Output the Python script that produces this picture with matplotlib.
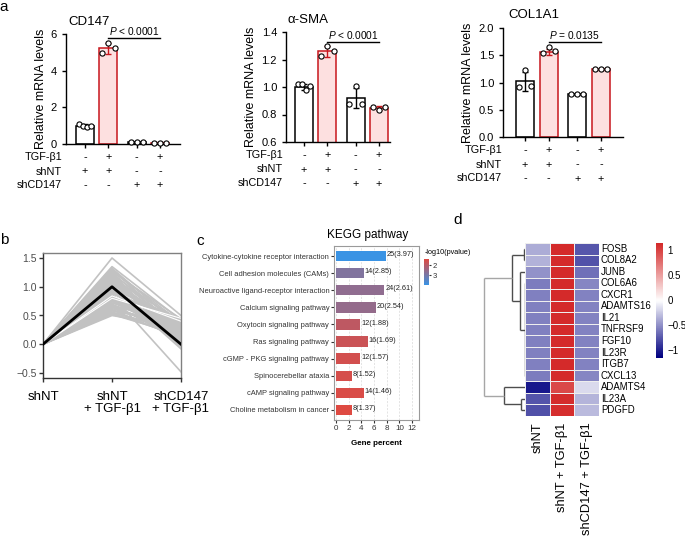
import numpy as np
import matplotlib
matplotlib.use("Agg")
import matplotlib.pyplot as plt
from matplotlib.colors import LinearSegmentedColormap, Normalize
from matplotlib.transforms import offset_copy

plt.rcParams["font.family"] = ["Liberation Sans", "DejaVu Sans"]
plt.rcParams["mathtext.fontset"] = "custom"
plt.rcParams["mathtext.it"] = "Liberation Sans:italic"
plt.rcParams["mathtext.rm"] = "Liberation Sans"

W, H = 685, 540

# ---------------- panel a data ----------------
tgf_row = ["-", "+", "-", "+"]
shnt_row = ["+", "+", "-", "-"]
shcd147_row = ["-", "-", "+", "+"]
row_names = ["TGF-\u03b21", "shNT", "shCD147"]

cd147_mean = [1.0, 5.22, 0.10, 0.08]
cd147_sd = [0.08, 0.30, 0.01, 0.01]
cd147_pts = [[1.10, 0.98, 0.93, 0.99], [4.98, 5.53, 5.26], [0.11, 0.10, 0.10], [0.08, 0.08, 0.08]]

sma_mean = [1.0, 1.26, 0.92, 0.85]
sma_sd = [0.02, 0.04, 0.075, 0.015]
sma_pts = [[1.02, 1.02, 0.975, 1.01], [1.225, 1.30, 1.26], [0.88, 1.005, 0.88], [0.855, 0.83, 0.855]]

col1a1_mean = [1.02, 1.56, 0.78, 1.24]
col1a1_sd = [0.18, 0.06, 0.01, 0.01]
col1a1_pts = [[0.91, 1.23, 0.935], [1.54, 1.66, 1.57], [0.78, 0.78, 0.78], [1.25, 1.24, 1.24]]

genes_a = ["CD147", "\u03b1-SMA", "COL1A1"]
p_texts = [r"$\it{P}$ < 0.0001", r"$\it{P}$ < 0.0001", r"$\it{P}$ = 0.0135"]
p_heights = [5.78, 1.327, 1.74]

# ---------------- panel b data ----------------
b_conditions = ["shNT", "shNT\n+ TGF-\u03b21", "shCD147\n+ TGF-\u03b21"]
b_peak = [1.50, 1.35, 1.32, 1.28, 1.25, 1.22, 1.20, 1.18, 1.15, 1.12, 1.10, 1.08,
          1.05, 1.02, 1.00, 0.98, 0.95, 0.92, 0.90, 0.88, 0.85, 0.82, 0.80, 0.78,
          0.75, 0.72, 0.70, 0.68, 0.65, 0.62, 0.60, 0.58, 0.55, 0.52, 0.50, 0.85,
          1.30, 1.26, 1.19, 1.14, 1.09, 1.04, 0.99, 0.94, 0.89, 0.84, 0.79, 0.74,
          0.69, 0.64, 0.59, 0.54, 1.24, 1.16, 1.06, 0.96, 0.86, 0.76, 0.66, 0.56]
b_end = [0.50, 0.42, 0.30, 0.38, 0.20, 0.35, 0.10, 0.28, 0.40, 0.05, 0.32, 0.15,
         0.25, -0.05, 0.36, 0.12, 0.30, 0.02, 0.22, 0.40, 0.18, 0.08, 0.34, 0.26,
         0.14, 0.30, 0.06, 0.38, 0.20, 0.28, 0.10, 0.34, 0.24, 0.16, 0.30, -0.48,
         0.22, 0.44, 0.00, 0.18, 0.26, 0.36, -0.08, 0.12, 0.42, 0.04, 0.20, 0.32,
         0.10, 0.24, 0.38, 0.14, -0.02, 0.08, 0.30, 0.44, 0.02, 0.18, 0.40, 0.22]
b_white_peak = [0.80, 0.84]
b_white_end = [0.45, 0.40]
b_center = [0.0, 1.0, 0.0]

# ---------------- panel c data ----------------
kegg_terms = ["Cytokine-cytokine receptor interaction", "Cell adhesion molecules (CAMs)",
              "Neuroactive ligand-receptor interaction", "Calcium signaling pathway",
              "Oxytocin signaling pathway", "Ras signaling pathway",
              "cGMP - PKG signaling pathway", "Spinocerebellar ataxia",
              "cAMP signaling pathway", "Choline metabolism in cancer"]
kegg_count = [25, 14, 24, 20, 12, 16, 12, 8, 14, 8]
kegg_pct = [7.9, 4.4, 7.6, 6.3, 3.8, 5.0, 3.8, 2.5, 4.4, 2.5]
kegg_logp = [3.97, 2.85, 2.61, 2.54, 1.88, 1.69, 1.57, 1.52, 1.46, 1.37]

# ---------------- panel d data ----------------
heat_genes = ["FOSB", "COL8A2", "JUNB", "COL6A6", "CXCR1", "ADAMTS16", "IL21", "TNFRSF9",
              "FGF10", "IL23R", "ITGB7", "CXCL13", "ADAMTS4", "IL23A", "PDGFD"]
heat_cols = ["shNT", "shNT + TGF-\u03b21", "shCD147 + TGF-\u03b21"]
heat_shnt = [-0.38, -0.36, -0.50, -0.60, -0.58, -0.58, -0.58, -0.58, -0.58, -0.58, -0.58, -0.60, -1.05, -0.78, -0.80]
heat_tgf = [1.15, 1.15, 1.15, 1.15, 1.15, 1.15, 1.15, 1.15, 1.15, 1.15, 1.15, 1.15, 0.97, 1.13, 1.12]
heat_cd147 = [-0.77, -0.79, -0.65, -0.55, -0.57, -0.57, -0.57, -0.57, -0.57, -0.57, -0.57, -0.55, -0.18, -0.35, -0.32]
# row dendrogram: (height, children), leaves are row indices
row_tree = (41, [(13, [(1, [0, 1]), (5, [2, (0, [3, 4, 5, 6, 7, 8, 9, 10, 11])])]),
                 (21, [12, (4, [13, 14])])])


def box(fig, l, t, r, b):
    return fig.add_axes([l / W, 1 - b / H, (r - l) / W, (b - t) / H])


fig = plt.figure(figsize=(W / 100, H / 100), dpi=100)

# ================= panel a =================
x_pos = [1, 2, 3.2, 4.2]
a_boxes = [(66, 34, 180, 144), (286, 32, 390, 142), (503, 28, 623, 137)]
a_xlims = [(0.19, 5.05), (0.23, 4.67), (0.07, 5.13)]
a_ylims = [(0, 6), (0.6, 1.4), (0, 2)]
a_yticks = [[0, 2, 4, 6], [0.6, 0.8, 1.0, 1.2, 1.4], [0, 0.5, 1.0, 1.5, 2.0]]
a_yfmt = ["{:.0f}", "{:.1f}", "{:.1f}"]
a_title_xy = [(68, 22), (287, 20), (508, 15)]
a_rowlab_x = [62, 283, 502]
means = [cd147_mean, sma_mean, col1a1_mean]
sds = [cd147_sd, sma_sd, col1a1_sd]
pts = [cd147_pts, sma_pts, col1a1_pts]
fills = ["white", "#fde0e0", "white", "#fde0e0"]
edges = ["black", "#c8161d", "black", "#c8161d"]

for k in range(3):
    l, t, r, b = a_boxes[k]
    ax = box(fig, l, t, r, b)
    ax.bar(x_pos, means[k], width=0.77, color=fills, edgecolor=edges, linewidth=1.1, zorder=1)
    for i in range(4):
        ax.errorbar(x_pos[i], means[k][i], yerr=sds[k][i], fmt="none", ecolor=edges[i],
                    elinewidth=1, capsize=2.5, capthick=1, zorder=2)
        vals = pts[k][i]
        offs = np.linspace(-0.26, 0.26, len(vals))
        ax.scatter(np.array(x_pos[i]) + offs, vals, s=14, facecolor="white",
                   edgecolor="black", linewidth=0.8, zorder=3, clip_on=False)
    ax.set_xlim(*a_xlims[k])
    ax.set_ylim(*a_ylims[k])
    ax.set_yticks(a_yticks[k])
    ax.set_yticklabels([a_yfmt[k].format(v) for v in a_yticks[k]], fontsize=8)
    ax.set_xticks(x_pos)
    ax.set_xticklabels([])
    ax.tick_params(length=3, width=1)
    for s in ["top", "right"]:
        ax.spines[s].set_visible(False)
    for s in ["left", "bottom"]:
        ax.spines[s].set_linewidth(1)
    ax.set_ylabel("Relative mRNA levels", fontsize=9, labelpad=3)
    fig.text(a_title_xy[k][0] / W, 1 - a_title_xy[k][1] / H, genes_a[k], fontsize=9.5,
             ha="left", va="center")
    # significance line
    ax.plot([x_pos[1], x_pos[3]], [p_heights[k]] * 2, color="black", lw=1, clip_on=False)
    ax.annotate(p_texts[k], ((x_pos[1] + x_pos[3]) / 2, p_heights[k]), xytext=(0, 1),
                textcoords="offset points", ha="center", va="bottom", fontsize=7.3,
                annotation_clip=False)
    # +/- table
    trans = ax.get_xaxis_transform()
    for j, (name, row) in enumerate(zip(row_names, [tgf_row, shnt_row, shcd147_row])):
        dy = [13, 27.5, 41.5][j]
        tr = offset_copy(trans, fig=fig, x=0, y=-dy, units="dots")
        for xi, sgn in zip(x_pos, row):
            ax.text(xi, 0, sgn, transform=tr, ha="center", va="center", fontsize=7.8)
        fig.text(a_rowlab_x[k] / W, 1 - (b + dy) / H, name, ha="right", va="center", fontsize=7.8)

# ================= panel b =================
axb = box(fig, 43, 253, 181, 378)
xs = [0, 1, 2]
for p, e in zip(b_peak, b_end):
    axb.plot(xs, [0, p, e], color="#c2c2c2", lw=1.2, zorder=1)
for p, e in zip(b_white_peak, b_white_end):
    axb.plot(xs, [0, p, e], color="white", lw=0.8, zorder=2)
axb.plot(xs, b_center, color="black", lw=2, zorder=3)
axb.set_xlim(0, 2)
axb.set_ylim(-0.587, 1.587)
axb.set_yticks([-0.5, 0.0, 0.5, 1.0, 1.5])
axb.set_yticklabels(["\u22120.5", "0.0", "0.5", "1.0", "1.5"], fontsize=7.5, color="#4d4d4d")
axb.set_xticks(xs)
axb.set_xticklabels(b_conditions, fontsize=9.5, va="top", linespacing=1.05)
axb.tick_params(axis="y", length=3, width=1, color="#333333", pad=1.5)
axb.tick_params(axis="x", length=3, width=1, color="#333333", pad=6)
for s in ["left", "bottom"]:
    axb.spines[s].set_color("#333333")
for s in ["top", "right"]:
    axb.spines[s].set_color("#808080")
for s in axb.spines.values():
    s.set_linewidth(1)

# ================= panel c =================
axc = box(fig, 334, 246, 419, 420)
kegg_cmap = LinearSegmentedColormap.from_list("kegg", ["#de4a42", "#3a93e4"])
kegg_norm = Normalize(vmin=min(kegg_logp), vmax=max(kegg_logp))
ypos = np.arange(len(kegg_terms))[::-1]
axc.set_axisbelow(True)
axc.grid(axis="x", color="#d9d9d9", ls=(0, (3, 2)), lw=0.5)
axc.barh(ypos, kegg_pct, height=0.6, color=kegg_cmap(kegg_norm(np.array(kegg_logp))), zorder=2)
for y, c, p, v in zip(ypos, kegg_count, kegg_pct, kegg_logp):
    axc.text(p + 0.15, y + 0.08, f"{c}({v:.2f})", fontsize=5.3, va="center", ha="left", color="#222222")
axc.set_yticks(ypos)
axc.set_yticklabels(kegg_terms, fontsize=5.4, color="#333333")
axc.set_xticks(np.arange(0, 13, 2))
axc.tick_params(axis="x", labelsize=5.8, length=2, pad=1.5, colors="#333333")
axc.tick_params(axis="y", length=2, pad=1.5, colors="#333333")
axc.set_xlim(-0.32, 13.1)
axc.set_ylim(-0.6, 9.6)
for s in axc.spines.values():
    s.set_color("#9a9a9a")
    s.set_linewidth(0.8)
axc.set_xlabel("Gene percent", fontsize=5.8, fontweight="bold", labelpad=6)
fig.text(368 / W, 1 - 235 / H, "KEGG pathway", fontsize=8.5, ha="center", va="center")
fig.text(425 / W, 1 - 252 / H, "-log10(pvalue)", fontsize=5.2, ha="left", va="center")
axc_cb = box(fig, 424, 259, 429, 285)
grad = np.linspace(min(kegg_logp), max(kegg_logp), 60).reshape(-1, 1)
axc_cb.imshow(grad, aspect="auto", cmap=kegg_cmap, norm=kegg_norm,
              extent=[0, 1, max(kegg_logp), min(kegg_logp)])
axc_cb.set_ylim(max(kegg_logp), min(kegg_logp))
axc_cb.set_xticks([])
axc_cb.yaxis.tick_right()
axc_cb.set_yticks([2, 3])
axc_cb.tick_params(axis="y", length=1.5, pad=1, labelsize=5.5, colors="#333333")
for s in axc_cb.spines.values():
    s.set_visible(False)

# ================= panel d =================
heat = np.array([heat_shnt, heat_tgf, heat_cd147]).T
heat_cmap = LinearSegmentedColormap.from_list("heat", ["#000080", "#ffffff", "#d42a2a"])
heat_norm = Normalize(vmin=-1.16, vmax=1.14)
axh = box(fig, 525, 243, 599, 416)
axh.pcolormesh(heat, cmap=heat_cmap, norm=heat_norm, edgecolors="#eeeeee", linewidth=0.6)
axh.set_xlim(0, 3)
axh.set_ylim(len(heat_genes), 0)
axh.set_xticks([])
axh.set_yticks([])
for s in axh.spines.values():
    s.set_visible(False)
for i, g in enumerate(heat_genes):
    axh.text(3.08, i + 0.5, g, fontsize=6.9, ha="left", va="center")
for j, c in enumerate(heat_cols):
    axh.text(j + 0.5, len(heat_genes) + 0.55, c, rotation=90, ha="center", va="top", fontsize=9.3)

# dendrogram
axd = box(fig, 480, 243, 525, 416)
axd.set_xlim(45, 0)
axd.set_ylim(len(heat_genes) - 0.5, -0.5)
axd.axis("off")


def draw_node(node, color):
    if isinstance(node, int):
        return node, 0
    h, children = node
    pos = [draw_node(ch, "#4d4d4d") for ch in children]
    ys = [p[0] for p in pos]
    axd.plot([h, h], [ys[0], ys[-1]], color=color, lw=1, solid_capstyle="butt")
    for y, ch_h in pos:
        axd.plot([h, ch_h], [y, y], color=color, lw=1, solid_capstyle="butt")
    return (ys[0] + ys[-1]) / 2, h


draw_node(row_tree, "#a6a6a6")

axh_cb = box(fig, 656, 243, 663, 358)
grad2 = np.linspace(-1.16, 1.14, 100).reshape(-1, 1)
axh_cb.imshow(grad2, aspect="auto", cmap=heat_cmap, norm=heat_norm, origin="lower",
              extent=[0, 1, -1.16, 1.14])
axh_cb.set_xticks([])
axh_cb.yaxis.tick_right()
axh_cb.set_yticks([-1, -0.5, 0, 0.5, 1])
axh_cb.set_yticklabels(["\u22121", "\u22120.5", "0", "0.5", "1"])
axh_cb.tick_params(axis="y", length=0, pad=3, labelsize=7)
for s in axh_cb.spines.values():
    s.set_visible(False)

# panel letters
for lab, (px, py) in zip("abcd", [(4, 7), (4, 240), (200, 241), (458, 220)]):
    fig.text(px / W, 1 - py / H, lab, fontsize=11, ha="center", va="center")

fig.savefig("out.png", dpi=100)
